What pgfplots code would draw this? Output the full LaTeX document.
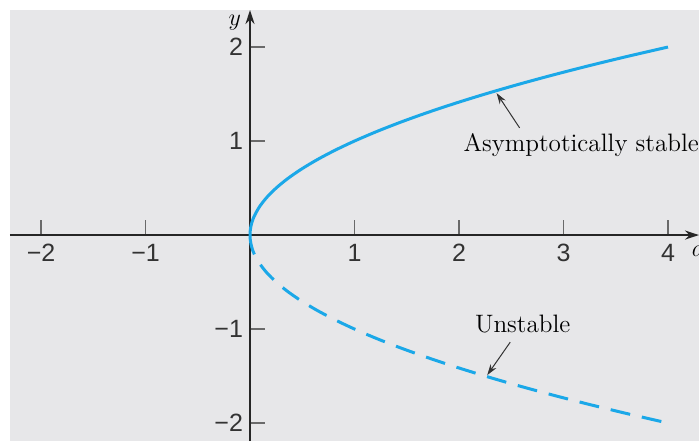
\documentclass[border=0pt]{standalone}
\usepackage{fontspec}
\usepackage{pgfplots}
\pgfplotsset{compat=1.18}
\usetikzlibrary{arrows.meta}
\newfontfamily\tickfont{Liberation Sans}
\definecolor{bgcolor}{HTML}{E7E7E9}
\definecolor{curve}{HTML}{1BA8E8}
\definecolor{tickgray}{HTML}{6A6A6A}

\begin{document}
\begin{tikzpicture}
\begin{axis}[
    scale only axis,
    width=344.5pt, height=215.5pt,
    xmin=-2.297, xmax=4.297,
    ymin=-2.191, ymax=2.394,
    axis lines=middle,
    axis line style={draw=black!85, line width=1pt, -{Stealth[length=7pt,width=4.5pt]}},
    axis background/.style={fill=bgcolor},
    xtick={-2,-1,1,2,3,4},
    xticklabels={−2,−1,1,2,3,4},
    ytick={-2,-1,1,2},
    yticklabels={−2,−1,1,2},
    tick align=inside,
    major tick length=7.5pt,
    tick style={draw=tickgray, line width=0.7pt},
    tick label style={font=\tickfont\fontsize{12.5}{14}\selectfont, text=black!80},
    xticklabel style={yshift=-1pt},
    clip=false,
]
\coordinate (bl) at (rel axis cs:0,0);
\coordinate (tr) at (rel axis cs:1,1);

% stable branch y = sqrt(a)
\addplot[curve, line width=1.5pt, smooth] coordinates {
 (0,0) (0.0025,0.05) (0.01,0.1) (0.0225,0.15) (0.04,0.2) (0.09,0.3) (0.16,0.4) (0.25,0.5)
 (0.36,0.6) (0.49,0.7) (0.64,0.8) (0.81,0.9) (1,1) (1.21,1.1)
 (1.44,1.2) (1.69,1.3) (1.96,1.4) (2.25,1.5) (2.56,1.6) (2.89,1.7)
 (3.24,1.8) (3.61,1.9) (4,2)
};
% unstable branch y = -sqrt(a)
\addplot[curve, line width=1.5pt, smooth, dash pattern=on 10pt off 6pt] coordinates {
 (0,0) (0.0025,-0.05) (0.01,-0.1) (0.0225,-0.15) (0.04,-0.2) (0.09,-0.3) (0.16,-0.4) (0.25,-0.5)
 (0.36,-0.6) (0.49,-0.7) (0.64,-0.8) (0.81,-0.9) (1,-1) (1.21,-1.1)
 (1.44,-1.2) (1.69,-1.3) (1.96,-1.4) (2.25,-1.5) (2.56,-1.6) (2.89,-1.7)
 (3.24,-1.8) (3.61,-1.9) (4,-2)
};

\node[font=\fontsize{12.6}{14}\selectfont] at (axis cs:3.17,0.96) {Asymptotically stable};
\draw[black!80, line width=0.5pt, -{Stealth[length=5.5pt,width=3.5pt]}]
  (axis cs:2.58,1.14) -- (axis cs:2.36,1.51);
\node[font=\fontsize{12.6}{14}\selectfont] at (axis cs:2.61,-0.95) {Unstable};
\draw[black!80, line width=0.5pt, -{Stealth[length=5.5pt,width=3.5pt]}]
  (axis cs:2.49,-1.14) -- (axis cs:2.27,-1.49);

\node[anchor=east, font=\fontsize{13}{14}\selectfont] at (axis cs:-0.02,2.26) {$y$};
\node[anchor=west, font=\fontsize{13}{14}\selectfont] at (axis cs:4.16,-0.17) {$a$};
\end{axis}
\pgfresetboundingbox
\path ([xshift=-5pt]bl) rectangle ([yshift=5pt]tr);
\end{tikzpicture}
\end{document}
